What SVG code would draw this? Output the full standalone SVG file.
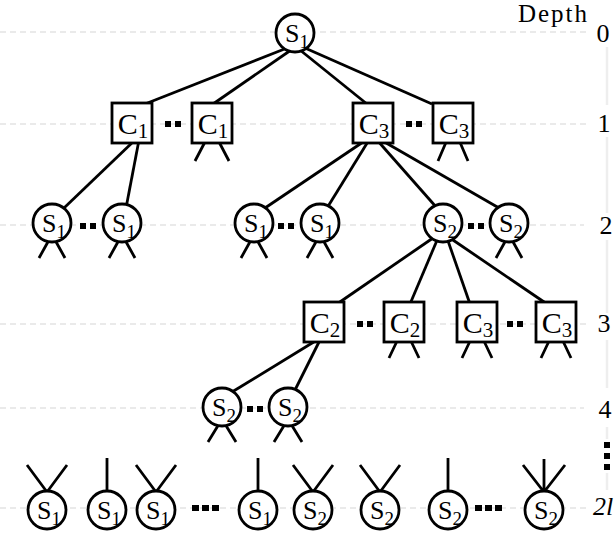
<svg xmlns="http://www.w3.org/2000/svg" width="615" height="539" viewBox="0 0 615 539">
<style>
.g{stroke:#e3e3e3;stroke-width:1.5;stroke-dasharray:6 4;fill:none}
.v{stroke:#eeeeee;stroke-width:2.5;fill:none}
.e{stroke:#000;stroke-width:2.8;fill:none}
.n{fill:#fff;stroke:#000;stroke-width:2.8}
.t{font-family:"Liberation Serif","Times New Roman",serif;fill:#000}
.s{font-size:26px}
.c{font-size:30px}
.lab{font-size:26px}
.k{fill:#000}
</style>
<g id="grid">
<line class="g" x1="0" y1="32" x2="586" y2="32"/>
<line class="g" x1="0" y1="124" x2="588" y2="124"/>
<line class="g" x1="0" y1="225" x2="584" y2="225"/>
<line class="g" x1="0" y1="324" x2="587" y2="324"/>
<line class="g" x1="0" y1="408" x2="584" y2="408"/>
<line class="g" x1="0" y1="508" x2="588" y2="508"/>
<line class="v" x1="607" y1="47" x2="607" y2="105"/>
<line class="v" x1="607" y1="137" x2="607" y2="213"/>
<line class="v" x1="607" y1="240" x2="607" y2="313"/>
<line class="v" x1="607" y1="340" x2="607" y2="388"/>
<line class="v" x1="607" y1="427" x2="607" y2="439"/>
<line class="v" x1="607" y1="473" x2="607" y2="490"/>
</g>
<g id="depth-labels" class="t">
<text x="518" y="22" font-size="25" textLength="69" lengthAdjust="spacing">Depth</text>
<text class="lab" x="603" y="42" text-anchor="middle">0</text>
<text class="lab" x="604" y="132" text-anchor="middle">1</text>
<text class="lab" x="606" y="234" text-anchor="middle">2</text>
<text class="lab" x="604" y="332" text-anchor="middle">3</text>
<text class="lab" x="605" y="418" text-anchor="middle">4</text>
<text class="lab" x="593" y="515" font-style="italic">2l</text>
<rect class="k" x="604" y="442" width="6" height="6"/>
<rect class="k" x="604" y="453" width="6" height="6"/>
<rect class="k" x="604" y="464" width="6" height="6"/>
</g>
<g id="connectors" class="e">
<line x1="287" y1="48" x2="145" y2="104"/>
<line x1="291" y1="50" x2="213" y2="104"/>
<line x1="300" y1="50" x2="367" y2="104"/>
<line x1="305" y1="48" x2="432" y2="104"/>
<line x1="135" y1="140" x2="64" y2="208"/>
<line x1="139" y1="140" x2="126" y2="208"/>
<line x1="366" y1="140" x2="265" y2="208"/>
<line x1="369" y1="140" x2="327" y2="208"/>
<line x1="377" y1="140" x2="437" y2="208"/>
<line x1="381" y1="140" x2="499" y2="208"/>
<line x1="433" y1="238" x2="337" y2="304"/>
<line x1="438" y1="238" x2="410" y2="304"/>
<line x1="447" y1="238" x2="470" y2="304"/>
<line x1="450" y1="238" x2="547" y2="304"/>
<line x1="317" y1="340" x2="232" y2="392"/>
<line x1="320" y1="340" x2="294" y2="392"/>
<path d="M206,140 L195,161 M218,140 L229,161"/>
<path d="M447,140 L438,161 M459,140 L468,161"/>
<path d="M398,339 L389,358 M410,339 L419,358"/>
<path d="M471,339 L462,358 M483,339 L492,358"/>
<path d="M550,339 L541,358 M562,339 L571,358"/>
<path d="M49,240 L39,258 M55,240 L65,258"/>
<path d="M119,240 L109,258 M125,240 L135,258"/>
<path d="M251,240 L241,258 M257,240 L267,258"/>
<path d="M317,240 L307,258 M323,240 L333,258"/>
<path d="M506,240 L496,258 M512,240 L522,258"/>
<path d="M219,424 L208,442 M225,424 L236,442"/>
<path d="M285,424 L274,442 M291,424 L302,442"/>
<path d="M27,465 L47,492 L67,465"/>
<path d="M107,458 L107,492"/>
<path d="M136,465 L156,492 L176,465"/>
<path d="M258,458 L258,492"/>
<path d="M293,465 L313,492 L333,465"/>
<path d="M360,465 L380,492 L400,465"/>
<path d="M448,458 L448,492"/>
<path d="M523,465 L544,492 L565,465 M544,459 L544,492"/>
</g>
<g id="dots" class="k">
<rect x="165" y="121" width="6" height="6"/><rect x="175" y="121" width="6" height="6"/>
<rect x="406" y="121" width="6" height="6"/><rect x="416" y="121" width="6" height="6"/>
<rect x="80" y="223" width="6" height="6"/><rect x="90" y="223" width="6" height="6"/>
<rect x="278" y="223" width="6" height="6"/><rect x="288" y="223" width="6" height="6"/>
<rect x="468" y="223" width="6" height="6"/><rect x="478" y="223" width="6" height="6"/>
<rect x="357" y="321" width="6" height="6"/><rect x="367" y="321" width="6" height="6"/>
<rect x="507" y="321" width="6" height="6"/><rect x="517" y="321" width="6" height="6"/>
<rect x="247" y="406" width="6" height="6"/><rect x="257" y="406" width="6" height="6"/>
<rect x="192" y="505" width="7" height="6"/><rect x="202" y="505" width="7" height="6"/><rect x="212" y="505" width="7" height="6"/>
<rect x="475" y="505" width="7" height="6"/><rect x="485" y="505" width="7" height="6"/><rect x="495" y="505" width="7" height="6"/>
</g>
<g id="n0" class="t s"><circle class="n" cx="295" cy="33" r="19"/><text x="297" y="42" text-anchor="middle">S<tspan font-size="19" dy="6">1</tspan></text></g>
<g id="n1a" class="t c"><rect class="n" x="112" y="103" width="40" height="40"/><text x="133" y="134" text-anchor="middle">C<tspan font-size="21" dy="4">1</tspan></text></g>
<g id="n1b" class="t c"><rect class="n" x="192" y="103" width="40" height="40"/><text x="213" y="134" text-anchor="middle">C<tspan font-size="21" dy="4">1</tspan></text></g>
<g id="n1c" class="t c"><rect class="n" x="353" y="103" width="40" height="40"/><text x="374" y="134" text-anchor="middle">C<tspan font-size="21" dy="4">3</tspan></text></g>
<g id="n1d" class="t c"><rect class="n" x="433" y="103" width="40" height="40"/><text x="454" y="134" text-anchor="middle">C<tspan font-size="21" dy="4">3</tspan></text></g>
<g id="n2a" class="t s"><circle class="n" cx="52" cy="223" r="19"/><text x="54" y="232" text-anchor="middle">S<tspan font-size="19" dy="6">1</tspan></text></g>
<g id="n2b" class="t s"><circle class="n" cx="122" cy="223" r="19"/><text x="124" y="232" text-anchor="middle">S<tspan font-size="19" dy="6">1</tspan></text></g>
<g id="n2c" class="t s"><circle class="n" cx="254" cy="223" r="19"/><text x="256" y="232" text-anchor="middle">S<tspan font-size="19" dy="6">1</tspan></text></g>
<g id="n2d" class="t s"><circle class="n" cx="320" cy="223" r="19"/><text x="322" y="232" text-anchor="middle">S<tspan font-size="19" dy="6">1</tspan></text></g>
<g id="n2e" class="t s"><circle class="n" cx="443" cy="223" r="19"/><text x="445" y="232" text-anchor="middle">S<tspan font-size="19" dy="6">2</tspan></text></g>
<g id="n2f" class="t s"><circle class="n" cx="509" cy="223" r="19"/><text x="511" y="232" text-anchor="middle">S<tspan font-size="19" dy="6">2</tspan></text></g>
<g id="n3a" class="t c"><rect class="n" x="304" y="302" width="40" height="40"/><text x="325" y="333" text-anchor="middle">C<tspan font-size="21" dy="4">2</tspan></text></g>
<g id="n3b" class="t c"><rect class="n" x="384" y="302" width="40" height="40"/><text x="405" y="333" text-anchor="middle">C<tspan font-size="21" dy="4">2</tspan></text></g>
<g id="n3c" class="t c"><rect class="n" x="457" y="302" width="40" height="40"/><text x="478" y="333" text-anchor="middle">C<tspan font-size="21" dy="4">3</tspan></text></g>
<g id="n3d" class="t c"><rect class="n" x="536" y="302" width="40" height="40"/><text x="557" y="333" text-anchor="middle">C<tspan font-size="21" dy="4">3</tspan></text></g>
<g id="n4a" class="t s"><circle class="n" cx="222" cy="407" r="19"/><text x="224" y="416" text-anchor="middle">S<tspan font-size="19" dy="6">2</tspan></text></g>
<g id="n4b" class="t s"><circle class="n" cx="288" cy="407" r="19"/><text x="290" y="416" text-anchor="middle">S<tspan font-size="19" dy="6">2</tspan></text></g>
<g id="n5a" class="t s"><circle class="n" cx="47" cy="510" r="19"/><text x="49" y="519" text-anchor="middle">S<tspan font-size="19" dy="6">1</tspan></text></g>
<g id="n5b" class="t s"><circle class="n" cx="107" cy="510" r="19"/><text x="109" y="519" text-anchor="middle">S<tspan font-size="19" dy="6">1</tspan></text></g>
<g id="n5c" class="t s"><circle class="n" cx="156" cy="510" r="19"/><text x="158" y="519" text-anchor="middle">S<tspan font-size="19" dy="6">1</tspan></text></g>
<g id="n5d" class="t s"><circle class="n" cx="258" cy="510" r="19"/><text x="260" y="519" text-anchor="middle">S<tspan font-size="19" dy="6">1</tspan></text></g>
<g id="n5e" class="t s"><circle class="n" cx="313" cy="510" r="19"/><text x="315" y="519" text-anchor="middle">S<tspan font-size="19" dy="6">2</tspan></text></g>
<g id="n5f" class="t s"><circle class="n" cx="380" cy="510" r="19"/><text x="382" y="519" text-anchor="middle">S<tspan font-size="19" dy="6">2</tspan></text></g>
<g id="n5g" class="t s"><circle class="n" cx="448" cy="510" r="19"/><text x="450" y="519" text-anchor="middle">S<tspan font-size="19" dy="6">2</tspan></text></g>
<g id="n5h" class="t s"><circle class="n" cx="544" cy="510" r="19"/><text x="546" y="519" text-anchor="middle">S<tspan font-size="19" dy="6">2</tspan></text></g>
</svg>
